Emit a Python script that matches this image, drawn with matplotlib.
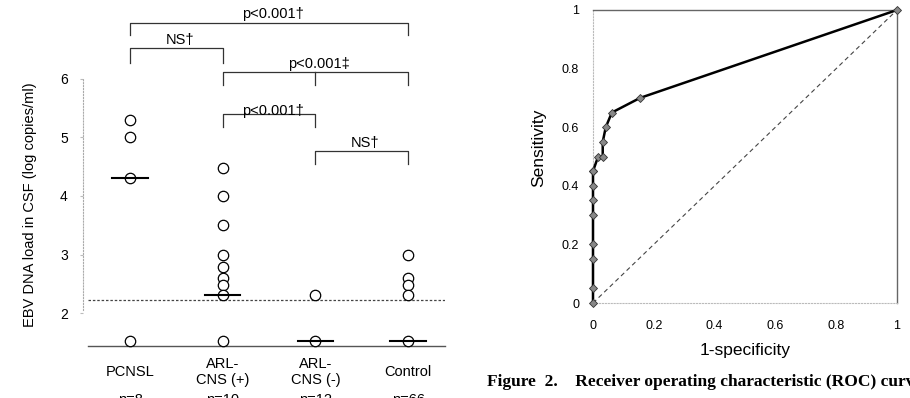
import matplotlib
matplotlib.use('Agg')
import matplotlib.pyplot as plt

plt.rcParams['font.family'] = ['Liberation Sans', 'DejaVu Sans']

# left panel: EBV DNA load per group
groups = ['PCNSL', 'ARL-\nCNS (+)', 'ARL-\nCNS (-)', 'Control']
n_labels = ['n=8', 'n=10', 'n=12', 'n=66']
pcnsl = [5.3, 5.0, 4.3, 1.52]
arl_pos = [4.47, 4.0, 3.5, 3.0, 2.79, 2.6, 2.48, 2.31, 1.52]
arl_neg = [2.3, 1.52]
control = [3.0, 2.6, 2.48, 2.31, 1.52]
medians = [4.3, 2.31, 1.52, 1.52]
cutoff = 2.22

# comparison brackets: (from, to, middle, top, leg bottom, label, label y)
brackets = [
    (0, 3, None, 6.96, 6.75, 'p<0.001\u2020', 6.99),
    (0, 1, None, 6.52, 6.28, 'NS\u2020', 6.54),
    (1, 3, 2, 6.11, 5.89, 'p<0.001\u2021', 6.13),
    (1, 2, None, 5.40, 5.17, 'p<0.001\u2020', 5.34),
    (2, 3, None, 4.77, 4.55, 'NS\u2020', 4.79),
]

# right panel: ROC curve
fpr = [0, 0, 0, 0, 0, 0, 0, 0, 0, 0.017, 0.032, 0.032, 0.042, 0.062, 0.155, 1.0]
tpr = [0, 0.05, 0.15, 0.2, 0.3, 0.35, 0.4, 0.45, 0.45, 0.5, 0.5, 0.55, 0.6, 0.65, 0.7, 1.0]

W, H = 910, 398
fig = plt.figure(figsize=(W / 100, H / 100), dpi=100)


def box(x0, x1, ytop, ybot):
    # pixel box -> figure fraction
    return [x0 / W, 1 - ybot / H, (x1 - x0) / W, (ybot - ytop) / H]


# ---- left panel
ax = fig.add_axes(box(83, 445, 10, 346))
ax.set_xlim(-0.507, 3.398)
ax.set_ylim(1.437, 7.177)

for i, vals in enumerate([pcnsl, arl_pos, arl_neg, control]):
    ax.plot([i] * len(vals), vals, 'o', ms=7.5, mfc='white', mec='black',
            mew=0.9, clip_on=False, zorder=3)
    ax.plot([i - 0.19, i + 0.19], [medians[i], medians[i]], color='black',
            lw=1.5, zorder=4)

ax.plot([-0.454, 3.398], [cutoff, cutoff], ls=(0, (2, 1.5)), color='#444',
        lw=0.9)

for a, b, mid, top, bot, label, ly in brackets:
    ax.plot([a, a, b, b], [bot, top, top, bot], color='#333', lw=0.9,
            clip_on=False)
    if mid is not None:
        ax.plot([mid, mid], [top, bot], color='#333', lw=0.9, clip_on=False)
    ax.text((a + b) / 2 + 0.04, ly, label, ha='center', va='bottom',
            fontsize=10.5, clip_on=False)

for i, g in enumerate(groups):
    ax.text(i, 0.99, g, ha='center', va='center', fontsize=10.5,
            linespacing=1.15, clip_on=False)
    ax.text(i, 0.52, n_labels[i], ha='center', va='center', fontsize=10.5,
            clip_on=False)

ax.set_yticks([2, 3, 4, 5, 6])
ax.set_xticks([])
ax.tick_params(axis='y', length=2, color='#bbb', pad=9, labelsize=10)
for s in ['top', 'right']:
    ax.spines[s].set_visible(False)
ax.spines['left'].set_bounds(2.05, 6)
ax.spines['left'].set_linestyle(':')
ax.spines['left'].set_color('#aaa')
ax.spines['left'].set_linewidth(0.8)
ax.spines['bottom'].set_bounds(-0.454, 3.398)
ax.spines['bottom'].set_color('#555')
ax.spines['bottom'].set_linewidth(1.0)
ax.set_ylabel('EBV DNA load in CSF (log copies/ml)', fontsize=10.5)
ax.yaxis.set_label_coords(-0.126, 0.42)

# ---- right panel
rx = fig.add_axes(box(593, 897, 10, 303))
rx.set_xlim(0, 1)
rx.set_ylim(0, 1)
rx.plot([0, 1], [0, 1], color='#444', lw=0.8, ls=(0, (4, 3)))
rx.plot(fpr, tpr, color='black', lw=1.8, marker='D', ms=3.8, mfc='#888',
        mec='#333', mew=0.6, clip_on=False, zorder=3)
rx.set_xticks([0, 0.2, 0.4, 0.6, 0.8, 1])
rx.set_xticklabels(['0', '0.2', '0.4', '0.6', '0.8', '1'])
rx.set_yticks([0, 0.2, 0.4, 0.6, 0.8, 1])
rx.set_yticklabels(['0', '0.2', '0.4', '0.6', '0.8', '1'])
rx.tick_params(length=0, labelsize=9)
rx.tick_params(axis='x', pad=12)
rx.tick_params(axis='y', pad=10)
for s in ['top', 'right']:
    rx.spines[s].set_color('#666')
    rx.spines[s].set_linewidth(1.0)
for s in ['left', 'bottom']:
    rx.spines[s].set_linestyle(':')
    rx.spines[s].set_color('#bbb')
    rx.spines[s].set_linewidth(0.8)
rx.set_xlabel('1-specificity', fontsize=12.5, labelpad=8)
rx.set_ylabel('Sensitivity', fontsize=12.5)
rx.yaxis.set_label_coords(-0.155, 0.53)

fig.text(487 / W, 1 - 382 / H,
         'Figure  2.    Receiver operating characteristic (ROC) curve',
         family='Liberation Serif', weight='bold', fontsize=12.5,
         va='center', ha='left')

fig.savefig('out.png', dpi=100)
